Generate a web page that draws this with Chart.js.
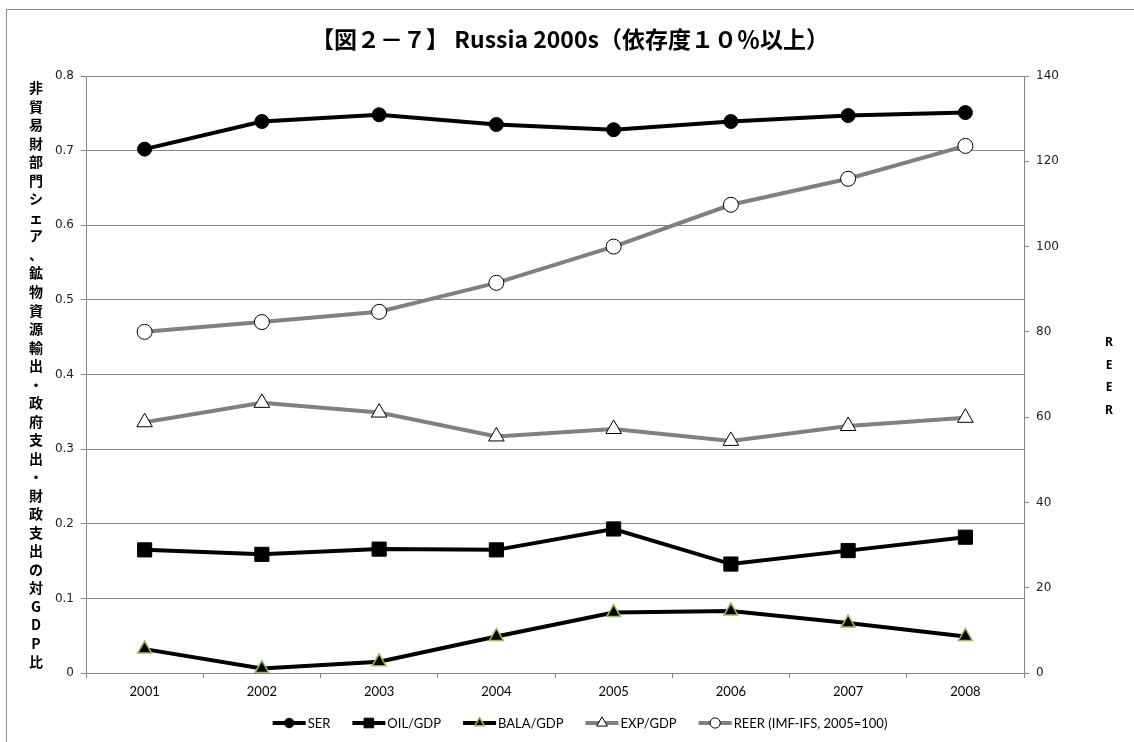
<!DOCTYPE html>
<html><head><meta charset="utf-8">
<script src="https://cdn.jsdelivr.net/npm/chart.js@4.4.1/dist/chart.umd.min.js"></script>
<style>
html,body{margin:0;padding:0;background:#fff;overflow:hidden;}
#wrap{position:relative;width:1134px;height:742px;}
#frame{position:absolute;left:6px;top:9px;width:1200px;height:800px;border:1px solid #8c8c8c;box-sizing:border-box;}
#c{position:absolute;left:0;top:0;}
</style></head>
<body><div id="wrap"><div id="frame"></div><canvas id="c" width="1134" height="742"></canvas></div>
<script>
const categories = ['2001','2002','2003','2004','2005','2006','2007','2008'];
const ser  = [0.702, 0.739, 0.748, 0.735, 0.728, 0.739, 0.747, 0.751];
const oil  = [0.165, 0.159, 0.166, 0.165, 0.193, 0.146, 0.164, 0.182];
const bala = [0.032, 0.006, 0.015, 0.049, 0.081, 0.083, 0.067, 0.049];
const exp  = [0.336, 0.362, 0.349, 0.317, 0.327, 0.311, 0.331, 0.342];
const reer = [80.0, 82.3, 84.7, 91.5, 100.0, 109.8, 115.9, 123.6];
const titleText = '【図２－７】 Russia 2000s（依存度１０％以上）';
const leftTitle = '非貿易財部門シェア、鉱物資源輸出・政府支出・財政支出の対GDP比';
const rightTitle = 'REER';

const GRID = '#868686';

function drawMarker(ctx, style, x, y, r, bg, bc, bw){
  ctx.save();
  ctx.beginPath();
  if(style==='circle'){ ctx.arc(x,y,r,0,Math.PI*2); }
  else if(style==='rect'){ const s=r*Math.SQRT1_2; ctx.rect(x-s,y-s,2*s,2*s); }
  else if(style==='triangle'){
    let rad=0;
    ctx.moveTo(x+Math.sin(rad)*r, y-Math.cos(rad)*r);
    rad+=Math.PI*2/3; ctx.lineTo(x+Math.sin(rad)*r, y-Math.cos(rad)*r);
    rad+=Math.PI*2/3; ctx.lineTo(x+Math.sin(rad)*r, y-Math.cos(rad)*r);
    ctx.closePath();
  }
  ctx.fillStyle=bg; ctx.fill();
  if(bw>0){ctx.lineWidth=bw; ctx.strokeStyle=bc; ctx.stroke();}
  ctx.restore();
}

const extras = {
  id:'extras',
  afterDraw(chart){
    const ctx = chart.ctx;
    ctx.save();
    // title
    ctx.fillStyle='#000';
    ctx.font='bold 23px "Noto Sans CJK JP"';
    ctx.textAlign='center'; ctx.textBaseline='middle';
    ctx.fillText(titleText, 570, 39);
    // left stacked title
    const chars = Array.from(leftTitle);
    ctx.font='bold 14px "Noto Sans CJK JP"';
    const y0=88, y1=662, step=(y1-y0)/(chars.length-1);
    chars.forEach((ch,i)=>{ ctx.fillText(ch, 36, y0+i*step); });
    // right stacked title
    ctx.font='bold 12px "Noto Sans"';
    Array.from(rightTitle).forEach((ch,i)=>{ ctx.fillText(ch, 1109, 343+i*22.4); });
    // legend
    ctx.font='13px Lato';
    ctx.textAlign='left';
    const ds = chart.data.datasets;
    const segW=33, txtGap=2, itemGap=22;
    const widths = ds.map(d=>segW+txtGap+ctx.measureText(d.label).width);
    const total = widths.reduce((a,b)=>a+b,0)+itemGap*(ds.length-1);
    let x = 580 - total/2; const ly=723;
    ds.forEach((d,i)=>{
      ctx.beginPath(); ctx.moveTo(x,ly); ctx.lineTo(x+segW,ly);
      ctx.strokeStyle=d.borderColor; ctx.lineWidth=d.borderWidth; ctx.stroke();
      drawMarker(ctx, d.pointStyle, x+segW/2, ly, d.pointRadius*0.68, d.pointBackgroundColor, d.pointBorderColor, d.pointBorderWidth);
      ctx.fillStyle='#000';
      ctx.fillText(d.label, x+segW+txtGap, ly+1);
      x += widths[i]+itemGap;
    });
    ctx.restore();
  }
};

new Chart(document.getElementById('c'), {
  type:'line',
  data:{
    labels:categories,
    datasets:[
      {label:'SER', data:ser, yAxisID:'y', borderColor:'#000', borderWidth:4, pointStyle:'circle', pointRadius:7, pointBackgroundColor:'#000', pointBorderColor:'#000', pointBorderWidth:1, order:1},
      {label:'OIL/GDP', data:oil, yAxisID:'y', borderColor:'#000', borderWidth:4, pointStyle:'rect', pointRadius:10, pointBackgroundColor:'#000', pointBorderColor:'#000', pointBorderWidth:1, order:2},
      {label:'BALA/GDP', data:bala, yAxisID:'y', borderColor:'#000', borderWidth:4, pointStyle:'triangle', pointRadius:8, pointBackgroundColor:'#000', pointBorderColor:'#9bbb59', pointBorderWidth:1.5, order:3},
      {label:'EXP/GDP', data:exp, yAxisID:'y', borderColor:'#808080', borderWidth:4, pointStyle:'triangle', pointRadius:9, pointBackgroundColor:'#fff', pointBorderColor:'#000', pointBorderWidth:1, order:4},
      {label:'REER (IMF-IFS, 2005=100)', data:reer, yAxisID:'y1', borderColor:'#808080', borderWidth:4, pointStyle:'circle', pointRadius:7.5, pointBackgroundColor:'#fff', pointBorderColor:'#000', pointBorderWidth:1, order:5}
    ]
  },
  options:{
    responsive:false, animation:false, devicePixelRatio:1,
    layout:{padding:{top:76,left:0,right:0,bottom:0}},
    plugins:{legend:{display:false}, title:{display:false}, tooltip:{enabled:false}},
    elements:{line:{tension:0}},
    scales:{
      x:{type:'category', offset:true,
        grid:{offset:true, drawOnChartArea:false, drawTicks:true, tickLength:5, color:GRID},
        border:{color:GRID, width:1},
        ticks:{font:{family:'Lato', size:13}, color:'#000', padding:6, maxRotation:0},
        afterFit(s){ s.height=69; }
      },
      y:{position:'left', min:0, max:0.8,
        grid:{color:GRID, tickLength:5, drawTicks:true},
        border:{color:GRID, width:1},
        ticks:{stepSize:0.1, font:{family:'DejaVu Sans', size:12}, color:'#222', padding:7,
          callback:(v)=> v===0 ? '0' : Number(v).toFixed(1)},
        afterFit(s){ s.width=86; }
      },
      y1:{position:'right', min:0, max:140,
        grid:{drawOnChartArea:false, color:GRID, tickLength:5, drawTicks:true},
        border:{color:GRID, width:1},
        ticks:{stepSize:20, font:{family:'DejaVu Sans', size:12}, color:'#222', padding:7},
        afterFit(s){ s.width=110; }
      }
    }
  },
  plugins:[extras]
});
</script></body></html>
